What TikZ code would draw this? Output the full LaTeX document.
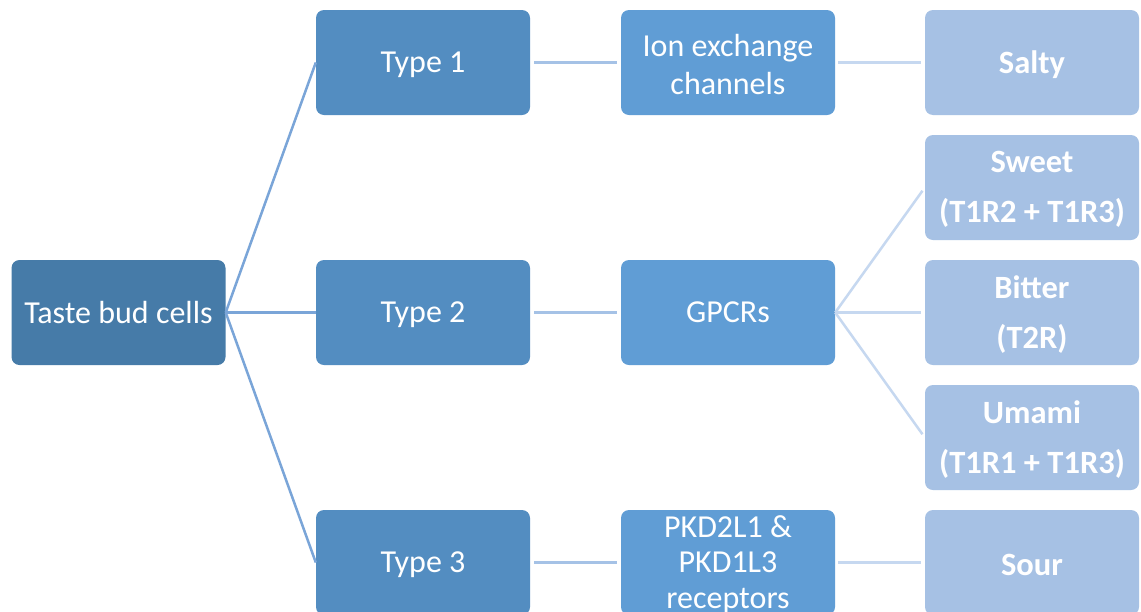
\documentclass[tikz,border=0pt]{standalone}
\usepackage{fontspec}
\setmainfont{Carlito}
\definecolor{rootc}{HTML}{467BA8}
\definecolor{typec}{HTML}{538DC1}
\definecolor{midc}{HTML}{609DD5}
\definecolor{leafc}{HTML}{A6C1E4}
\definecolor{lineA}{HTML}{7AA5D8}
\definecolor{lineB}{HTML}{A5C2E6}
\definecolor{lineC}{HTML}{C6D8F0}
\newcommand\dn[1]{\raisebox{-2pt}[\height][\depth]{#1}}
\tikzset{
  box/.style={rectangle, rounded corners=8pt, minimum width=214pt, minimum height=105pt,
    inner sep=0pt, align=center, text=white, font=\fontsize{32}{38}\selectfont},
  rootbox/.style={box, fill=rootc},
  typebox/.style={box, fill=typec},
  midbox/.style={box, fill=midc},
  leafbox/.style={box, fill=leafc, font=\fontsize{32.5}{50}\selectfont\bfseries},
  linkA/.style={draw=lineA, line width=2.5pt},
  linkB/.style={draw=lineB, line width=2.5pt, shorten <=4pt, shorten >=4pt},
  linkC/.style={draw=lineC, line width=2.5pt, shorten >=4pt}
}
\begin{document}
\begin{tikzpicture}[x=1pt,y=-1pt]
\clip (0,0) rectangle (1141,611);
\fill[white] (0,0) rectangle (1141,611);
\node[rootbox] (root) at (118.5,312.5) {Taste bud cells};
\node[typebox] (t1) at (423,62.5) {\dn{Type 1}};
\node[typebox] (t2) at (423,312.5) {\dn{Type 2}};
\node[typebox] (t3) at (423,562.5) {\dn{Type 3}};
\node[midbox] (ion) at (728,62.5) {\dn{Ion exchange}\\\dn{channels}};
\node[midbox] (gpcr) at (728,312.5) {GPCRs};
\node[midbox, font=\fontsize{32}{35.5}\selectfont] (pkd) at (728,562.5) {\dn{PKD2L1 \&}\\\dn{PKD1L3}\\\dn{receptors}};
\node[leafbox] (salty) at (1032,62.5) {\dn{Salty}};
\node[leafbox] (sweet) at (1032,187.5) {\dn{Sweet}\\\dn{(T1R2 + T1R3)}};
\node[leafbox] (bitter) at (1032,312.5) {\dn{Bitter}\\\dn{(T2R)}};
\node[leafbox] (umami) at (1032,437.5) {\dn{Umami}\\\dn{(T1R1 + T1R3)}};
\node[leafbox] (sour) at (1032,562.5) {\dn{Sour}};
\draw[linkA] (root.east) -- (t1.west);
\draw[linkA] (root.east) -- (t2.west);
\draw[linkA] (root.east) -- (t3.west);
\draw[linkB] (t1.east) -- (ion.west);
\draw[linkB] (t2.east) -- (gpcr.west);
\draw[linkB] (t3.east) -- (pkd.west);
\draw[linkC, shorten <=3pt] (ion.east) -- (salty.west);
\draw[linkC] (gpcr.east) -- (sweet.west);
\draw[linkC] (gpcr.east) -- (bitter.west);
\draw[linkC] (gpcr.east) -- (umami.west);
\draw[linkC, shorten <=3pt] (pkd.east) -- (sour.west);
\end{tikzpicture}
\end{document}
